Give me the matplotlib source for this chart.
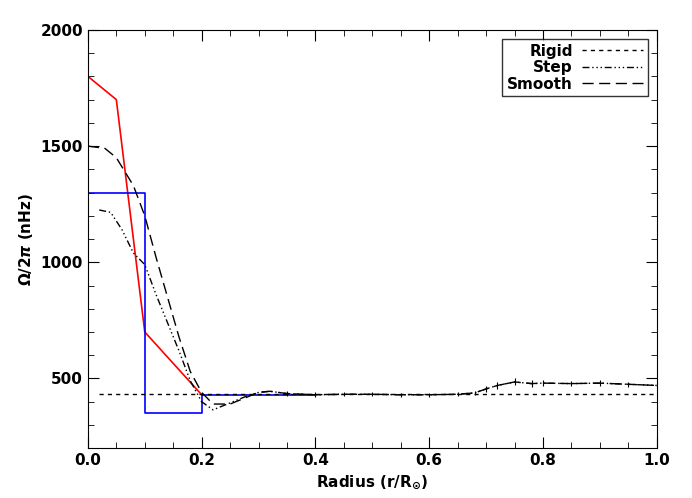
import matplotlib
matplotlib.use("Agg")
import matplotlib.pyplot as plt
import numpy as np

red_r = [0.0, 0.05, 0.1, 0.2]
red_v = [1800, 1700, 700, 430]
blue_r = [0.0, 0.1, 0.1, 0.2, 0.2, 0.4]
blue_v = [1300, 1300, 350, 350, 430, 430]
rigid_r = [0.02, 1.0]
rigid_v = [432, 432]

tail_r = [0.35, 0.4, 0.45, 0.5, 0.55, 0.6, 0.65, 0.68, 0.7, 0.72, 0.75, 0.78, 0.8, 0.85, 0.9, 0.95, 1.0]
tail_v = [435, 430, 432, 432, 430, 430, 432, 438, 455, 470, 485, 478, 480, 478, 480, 475, 470]
tail_e = [10, 10, 8, 8, 8, 8, 8, 10, 12, 15, 15, 15, 12, 12, 12, 10, 8]

smooth_r = [0.0, 0.03, 0.05, 0.08, 0.1, 0.12, 0.14, 0.16, 0.18, 0.2, 0.22, 0.25, 0.28, 0.3, 0.32]
smooth_v = [1500, 1490, 1450, 1330, 1200, 1020, 850, 680, 530, 440, 390, 390, 420, 440, 445]
step_r = [0.02, 0.04, 0.06, 0.08, 0.1, 0.12, 0.14, 0.16, 0.18, 0.2, 0.22, 0.25, 0.28, 0.3, 0.32]
step_v = [1225, 1215, 1140, 1040, 990, 860, 740, 620, 490, 400, 365, 395, 425, 440, 445]

plt.rcParams['font.family'] = ['DejaVu Sans']
plt.rcParams['font.weight'] = 'bold'
fig = plt.figure(figsize=(6.92, 4.98), dpi=100)
ax = fig.add_axes([0.127, 0.1, 0.822, 0.84])

ax.plot(red_r, red_v, color='red', lw=1.2)
ax.plot(blue_r, blue_v, color='blue', lw=1.2)
ax.plot(rigid_r, rigid_v, 'k', lw=1, dashes=(3, 3), label='Rigid')
ax.plot(step_r + tail_r, step_v + tail_v, 'k', lw=1, dashes=(5, 2, 1, 2, 1, 2, 1, 2), label='Step')
ax.plot(smooth_r + tail_r, smooth_v + tail_v, 'k', lw=1, dashes=(8, 4), label='Smooth')
ax.errorbar(tail_r, tail_v, yerr=tail_e, fmt='none', ecolor='k', elinewidth=0.8)

ax.set_xlim(0, 1)
ax.set_ylim(200, 2000)
ax.set_xticks([0, 0.2, 0.4, 0.6, 0.8, 1.0])
ax.set_xticks(np.arange(0, 1.001, 0.05), minor=True)
ax.set_yticks([500, 1000, 1500, 2000])
ax.set_yticks(np.arange(200, 2001, 100), minor=True)
ax.tick_params(which='both', direction='in', top=True, right=True, labelsize=11)
ax.tick_params(which='major', length=8)
ax.tick_params(which='minor', length=4)
ax.set_xlabel(r'Radius (r/R$_{\odot}$)', fontsize=11, fontweight='bold')
ax.set_ylabel(r'$\Omega/2\pi$ (nHz)', fontsize=11, fontweight='bold')
leg = ax.legend(loc='upper right', frameon=True, fancybox=False, edgecolor='k',
                markerfirst=False, handlelength=4, fontsize=11, borderpad=0.3,
                labelspacing=0.1, handletextpad=0.6, borderaxespad=0.6)
leg.get_frame().set_linewidth(1)
for t in leg.get_texts():
    t.set_ha('right')
fig.savefig('out.png', dpi=100)
